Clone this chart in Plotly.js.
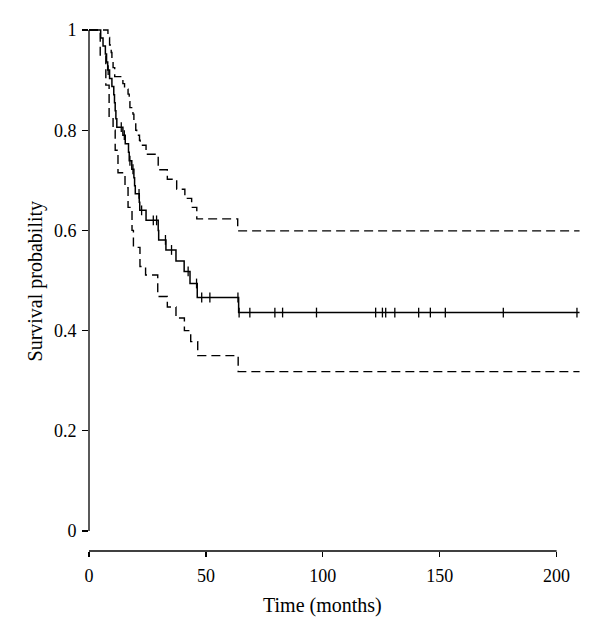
<!DOCTYPE html>
<html>
<head>
<meta charset="utf-8">
<script src="https://cdn.plot.ly/plotly-3.0.1.min.js"></script>
<style>html,body{margin:0;padding:0;background:#fff;}#chart{width:600px;height:637px;}</style>
</head>
<body>
<div id="chart"></div>
<script>
// Kaplan-Meier estimate (time in months, survival after each event)
const kmTime = [0, 5.0, 6.0, 7.0, 7.5, 8.0, 8.8, 9.8, 10.6, 10.9, 11.2, 11.5, 11.9, 14.5, 15.5, 16.9, 17.2, 18.3, 19.2, 19.5, 19.8, 21.5, 21.7, 24.4, 29.6, 29.8, 32.9, 37.2, 40.7, 43.2, 46.3, 64.0, 209.8];
const kmSurv = [1, 0.984, 0.968, 0.952, 0.936, 0.920, 0.903, 0.887, 0.871, 0.855, 0.839, 0.823, 0.806, 0.790, 0.773, 0.756, 0.739, 0.722, 0.705, 0.689, 0.673, 0.656, 0.640, 0.620, 0.600, 0.581, 0.561, 0.539, 0.518, 0.494, 0.466, 0.436, 0.436];

// Censored observations
const censTime = [8.2, 13.8, 15.1, 17.5, 18.8, 21.4, 22.5, 27.5, 28.9, 32.7, 35.3, 42.4, 46.0, 48.2, 51.7, 63.7, 64.2, 68.8, 79.5, 82.8, 97.3, 122.6, 125.5, 126.9, 130.8, 141.0, 146.0, 152.4, 177.2, 208.7];
const censSurv = [0.920, 0.806, 0.790, 0.739, 0.722, 0.673, 0.640, 0.620, 0.620, 0.581, 0.561, 0.518, 0.494, 0.466, 0.466, 0.466, 0.436, 0.436, 0.436, 0.436, 0.436, 0.436, 0.436, 0.436, 0.436, 0.436, 0.436, 0.436, 0.436, 0.436];

// Upper confidence limit
const upTime = [0, 8.1, 8.8, 9.5, 9.8, 10.3, 11.0, 14.5, 15.2, 16.7, 17.2, 17.5, 18.8, 19.2, 20.0, 20.4, 21.6, 21.9, 24.4, 29.6, 33.5, 37.5, 41.0, 43.9, 46.1, 63.6, 209.8];
const upSurv = [1, 0.985, 0.970, 0.955, 0.940, 0.925, 0.907, 0.893, 0.882, 0.872, 0.857, 0.845, 0.832, 0.818, 0.800, 0.790, 0.780, 0.770, 0.752, 0.721, 0.702, 0.682, 0.664, 0.646, 0.623, 0.599, 0.599];

// Lower confidence limit
const loTime = [0, 4.8, 7.2, 8.6, 10.3, 11.2, 12.4, 15.4, 16.7, 18.4, 19.0, 21.8, 24.2, 29.4, 33.5, 37.2, 40.8, 43.5, 46.5, 63.8, 209.8];
const loSurv = [1, 0.950, 0.890, 0.826, 0.800, 0.760, 0.715, 0.685, 0.646, 0.600, 0.566, 0.528, 0.511, 0.468, 0.447, 0.425, 0.400, 0.378, 0.350, 0.318, 0.318];

const xTicks = [0, 50, 100, 150, 200];
const yTicks = [0, 0.2, 0.4, 0.6, 0.8, 1];
const yTickText = ['0', '0.2', '0.4', '0.6', '0.8', '1'];

const FONT = 'Liberation Serif, Times New Roman, serif';
const dashStyle = '9px,5px';

const traces = [
  {x: upTime, y: upSurv, mode: 'lines', line: {shape: 'hv', color: '#000', width: 1.4, dash: dashStyle}, hoverinfo: 'skip'},
  {x: loTime, y: loSurv, mode: 'lines', line: {shape: 'hv', color: '#000', width: 1.4, dash: dashStyle}, hoverinfo: 'skip'},
  {x: kmTime, y: kmSurv, mode: 'lines', line: {shape: 'hv', color: '#000', width: 1.5}, hoverinfo: 'skip'},
  {x: censTime, y: censSurv, mode: 'markers', marker: {symbol: 'line-ns', size: 7, color: '#000', line: {color: '#000', width: 1.3}}, hoverinfo: 'skip'}
];

const layout = {
  width: 600, height: 637,
  margin: {l: 89, r: 20, t: 25, b: 86},
  paper_bgcolor: '#fff', plot_bgcolor: '#fff',
  showlegend: false,
  font: {family: FONT, color: '#000', size: 18},
  xaxis: {
    range: [0, 210], tickvals: xTicks, ticktext: xTicks.map(String),
    ticks: 'outside', ticklen: 5, tickwidth: 1.3, tickcolor: '#000',
    showgrid: false, zeroline: false, showline: false,
    tickfont: {family: FONT, size: 18, color: '#000'}, ticklabelstandoff: 3
  },
  yaxis: {
    range: [-0.04, 1.01], tickvals: yTicks, ticktext: yTickText,
    ticks: 'outside', ticklen: 6, tickwidth: 1.3, tickcolor: '#000',
    showgrid: false, zeroline: false, showline: false,
    tickfont: {family: FONT, size: 18, color: '#000'}, ticklabelstandoff: 2
  },
  shapes: [
    {type: 'line', xref: 'x', yref: 'paper', x0: 0, x1: 200, y0: 0, y1: 0, line: {color: '#000', width: 1.3}},
    {type: 'line', xref: 'paper', yref: 'y', x0: 0, x1: 0, y0: 0, y1: 1, line: {color: '#000', width: 1.3}}
  ],
  annotations: [
    {text: 'Time (months)', xref: 'x', yref: 'paper', x: 100, y: -0.1027, xanchor: 'center', yanchor: 'middle', showarrow: false, font: {family: FONT, size: 20, color: '#000'}},
    {text: 'Survival probability', xref: 'paper', yref: 'y', x: -0.11, y: 0.5, xanchor: 'center', yanchor: 'middle', textangle: -90, showarrow: false, font: {family: FONT, size: 20, color: '#000'}}
  ]
};

Plotly.newPlot('chart', traces, layout, {displayModeBar: false, staticPlot: true});
</script>
</body>
</html>
